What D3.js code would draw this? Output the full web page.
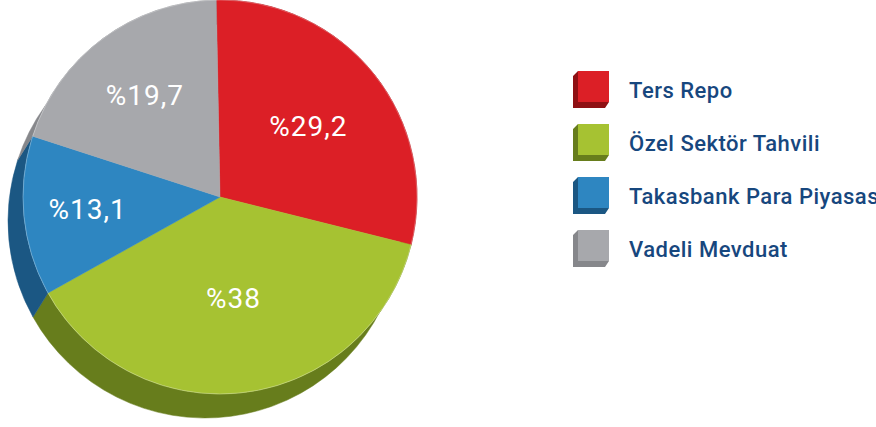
<!DOCTYPE html>
<html>
<head>
<meta charset="utf-8">
<script src="https://cdn.jsdelivr.net/npm/d3@7"></script>
<style>
html,body{margin:0;padding:0;background:#fff;}
svg{display:block;}
</style>
</head>
<body>
<svg id="chart" width="876" height="427"></svg>
<script>
// ---- data ----
const categories = ["Ters Repo", "Özel Sektör Tahvili", "Takasbank Para Piyasası", "Vadeli Mevduat"];
const values = [29.2, 38, 13.1, 19.7];
const labels = ["%29,2", "%38", "%13,1", "%19,7"];

// ---- styles / layout ----
const topColors  = ["#dc1f26", "#a6c232", "#2e86c1", "#a7a8ac"];
const sideColors = ["#8f1014", "#677d1c", "#1b5783", "#86878b"];
const labelRadius = [113, 102, 133, 126];

const cx = 220, cy = 197, r = 197;
const off = {x: -15, y: 24};

const svg = d3.select("#chart");

const pie = d3.pie().sort(null).value(d => d)
  .startAngle(-0.019).endAngle(-0.019 + 2 * Math.PI);
const arcs = pie(values);
const arc = d3.arc().innerRadius(0).outerRadius(r);

const g = svg.append("g").attr("transform", `translate(${cx},${cy})`);

function pt(a, dx, dy) { return [r * Math.sin(a) + dx, -r * Math.cos(a) + dy]; }
function sidePath(a0, a1) {
  const p = d3.path();
  const s0 = pt(a0, 0, 0);
  p.moveTo(s0[0], s0[1]);
  p.arc(0, 0, r, a0 - Math.PI / 2, a1 - Math.PI / 2, false);
  const e = pt(a1, off.x, off.y);
  p.lineTo(e[0], e[1]);
  p.arc(off.x, off.y, r, a1 - Math.PI / 2, a0 - Math.PI / 2, true);
  p.closePath();
  return p.toString();
}
g.selectAll("path.side").data(arcs).join("path")
  .attr("class", "side")
  .attr("d", d => sidePath(d.startAngle, d.endAngle))
  .attr("fill", (d, i) => sideColors[i])
  .attr("stroke", (d, i) => sideColors[i])
  .attr("stroke-width", 0.5);

g.selectAll("path.top").data(arcs).join("path")
  .attr("class", "top")
  .attr("d", arc)
  .attr("fill", (d, i) => topColors[i])
  .attr("stroke", (d, i) => topColors[i])
  .attr("stroke-width", 0.5);

g.append("circle").attr("r", r).attr("fill", "none")
  .attr("stroke", "rgba(255,255,255,0.35)").attr("stroke-width", 0.8);

g.selectAll("text.lbl").data(arcs).join("text")
  .attr("class", "lbl")
  .attr("x", (d, i) => labelRadius[i] * Math.sin((d.startAngle + d.endAngle) / 2))
  .attr("y", (d, i) => -labelRadius[i] * Math.cos((d.startAngle + d.endAngle) / 2))
  .attr("text-anchor", "middle")
  .attr("dominant-baseline", "central")
  .attr("font-family", "Roboto, 'DejaVu Sans', sans-serif")
  .attr("font-size", 28)
  .attr("letter-spacing", 1)
  .attr("fill", "#ffffff")
  .text((d, i) => labels[i]);

const legY = d3.scaleBand().domain(categories).range([71, 283]).paddingInner(0);
const leg = svg.append("g");
const items = leg.selectAll("g").data(categories).join("g")
  .attr("transform", d => `translate(0,${legY(d)})`);
items.append("path")
  .attr("d", "M578,0 L573,5 L573,37 L605,37 L609,31 L578,31 Z")
  .attr("fill", (d, i) => sideColors[i]);
items.append("rect")
  .attr("x", 578).attr("y", 0).attr("width", 31).attr("height", 31)
  .attr("fill", (d, i) => topColors[i]);
items.append("text")
  .attr("x", 629).attr("y", 19)
  .attr("dominant-baseline", "central")
  .attr("font-family", "Roboto, 'DejaVu Sans', sans-serif")
  .attr("font-weight", 500)
  .attr("font-size", 22)
  .attr("letter-spacing", 0.5)
  .attr("fill", "#17477e")
  .text(d => d);
</script>
</body>
</html>
